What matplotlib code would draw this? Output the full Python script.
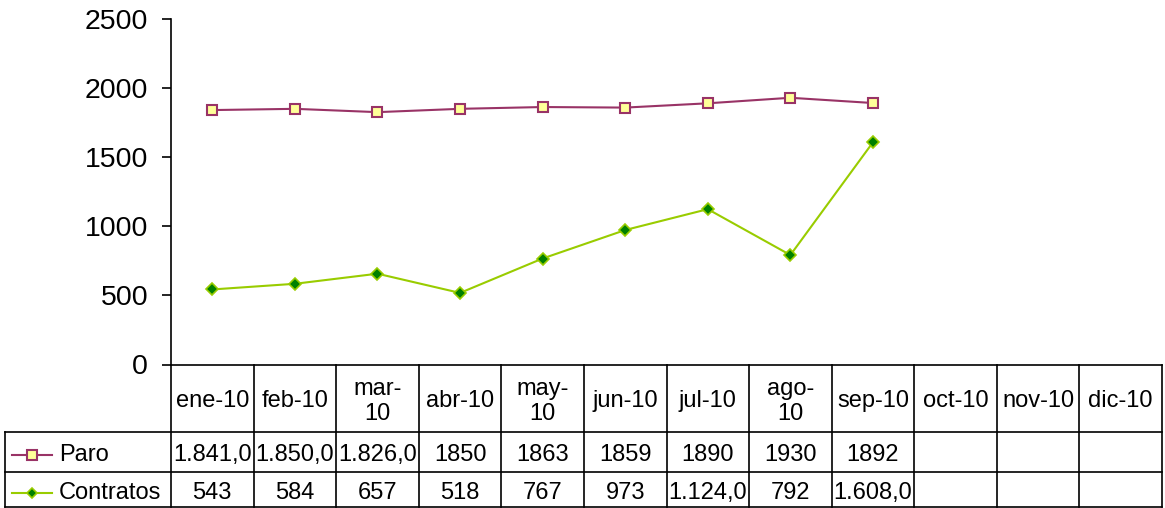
import matplotlib.pyplot as plt
from matplotlib.lines import Line2D

plt.rcParams['font.family'] = ['Liberation Sans', 'DejaVu Sans']

meses = ['ene-10', 'feb-10', 'mar-10', 'abr-10', 'may-10', 'jun-10',
         'jul-10', 'ago-10', 'sep-10', 'oct-10', 'nov-10', 'dic-10']
cabecera = ['ene-10', 'feb-10', 'mar-\n10', 'abr-10', 'may-\n10', 'jun-10',
            'jul-10', 'ago-\n10', 'sep-10', 'oct-10', 'nov-10', 'dic-10']
paro = [1841, 1850, 1826, 1850, 1863, 1859, 1890, 1930, 1892]
contratos = [543, 584, 657, 518, 767, 973, 1124, 792, 1608]
paro_txt = ['1.841,0', '1.850,0', '1.826,0', '1850', '1863', '1859', '1890', '1930', '1892']
contratos_txt = ['543', '584', '657', '518', '767', '973', '1.124,0', '792', '1.608,0']
yticks = [0, 500, 1000, 1500, 2000, 2500]

W, H = 1165, 508
fig = plt.figure(figsize=(W / 100, H / 100), dpi=100)

# geometria en pixeles
x0, x1 = 171, 1162
y_cero, y_tope = 364.5, 19
y_f1, y_f2, y_fin = 432, 472, 507
x_leyenda = 5
n = len(meses)
ancho = (x1 - x0) / n

ax = fig.add_axes([x0 / W, (H - y_cero) / H, (x1 - x0) / W, (y_cero - y_tope) / H])
ax.set_xlim(-0.5, n - 0.5)
ax.set_ylim(0, 2500)

col_paro = '#993366'
col_contr = '#99CC00'
ax.plot(range(len(paro)), paro, color=col_paro, lw=1.5, marker='s', ms=7,
        mfc='#FFFF99', mec=col_paro, mew=1.5, clip_on=False)
ax.plot(range(len(contratos)), contratos, color=col_contr, lw=1.5, marker='D', ms=6,
        mfc='#008000', mec=col_contr, mew=1.2, clip_on=False)

for s in ['top', 'right', 'bottom']:
    ax.spines[s].set_visible(False)
ax.spines['left'].set_linewidth(1.2)
ax.set_xticks([])
ax.set_yticks(yticks)
ax.tick_params(axis='y', direction='out', length=6.5, width=1.2, labelsize=20.5, pad=10)

# tabla de datos
tb = fig.add_axes([0, 0, 1, 1])
tb.set_xlim(0, W)
tb.set_ylim(H, 0)
tb.axis('off')
lw = 1.2
tb.plot([x0, x1], [y_cero, y_cero], color='black', lw=lw)
for y in [y_f1, y_f2, y_fin]:
    tb.plot([x_leyenda, x1], [y, y], color='black', lw=lw)
tb.plot([x_leyenda, x_leyenda], [y_f1, y_fin], color='black', lw=lw)
for k in range(n + 1):
    xx = x0 + k * ancho
    tb.plot([xx, xx], [y_cero, y_fin], color='black', lw=lw)

fs = 17
for i, lab in enumerate(cabecera):
    tb.text(x0 + (i + 0.5) * ancho, (y_cero + y_f1) / 2 + 3, lab, ha='center', va='center',
            fontsize=fs, linespacing=1.2)
ym1 = (y_f1 + y_f2) / 2 + 3
ym2 = (y_f2 + y_fin) / 2 + 3.5
for i, t in enumerate(paro_txt):
    tb.text(x0 + (i + 0.5) * ancho, ym1, t, ha='center', va='center', fontsize=fs)
for i, t in enumerate(contratos_txt):
    tb.text(x0 + (i + 0.5) * ancho, ym2, t, ha='center', va='center', fontsize=fs)

# leyenda dentro de la tabla
tb.add_line(Line2D([12, 52], [ym1, ym1], color=col_paro, lw=1.5))
tb.plot([32], [ym1], marker='s', ms=7, mfc='#FFFF99', mec=col_paro, mew=1.5)
tb.add_line(Line2D([12, 52], [ym2, ym2], color=col_contr, lw=1.5))
tb.plot([32], [ym2], marker='D', ms=5, mfc='#008000', mec=col_contr, mew=1.2)
tb.text(59, ym1, 'Paro', ha='left', va='center', fontsize=fs)
tb.text(59, ym2, 'Contratos', ha='left', va='center', fontsize=fs)

fig.savefig('out.png', dpi=100)
